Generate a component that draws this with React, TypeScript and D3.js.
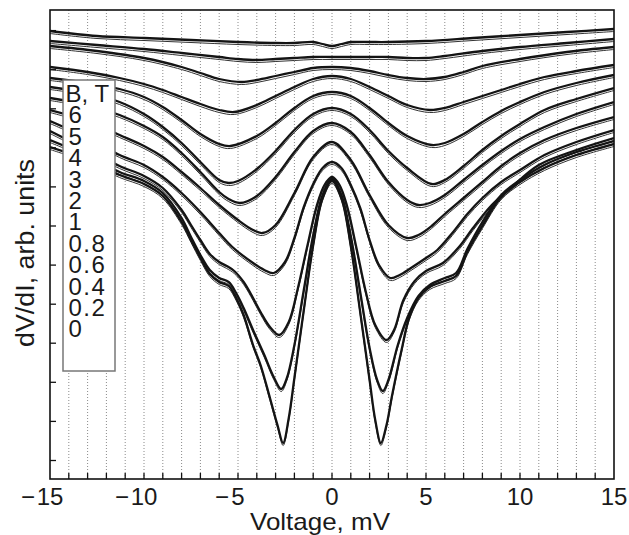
import React from "react";
import * as d3 from "d3";

type P = [number, number];

// Voltage (mV) vs dV/dI (arb. units); each series one field value.
const curveA: P[] = [[-15,44.8],[-12.5,44.3],[-10,44.1],[-7.5,43.9],[-5,43.7],[-3,43.6],[-2,43.6],[-1,43.7],[-0.5,43.5],[0,43.3],[0.5,43.5],[1,43.7],[2,43.7],[3,43.7],[5,43.8],[7.5,44.1],[10,44.4],[12.5,44.7],[15,45.0]];
const curveB: P[] = [[-15,43.8],[-12.5,43.4],[-10,43.0],[-8,42.6],[-6,42.2],[-5,42.0],[-4,41.9],[-3,42.0],[-2,42.1],[-1,42.2],[0,42.2],[1,42.2],[2,42.2],[3,42.2],[4,42.1],[5,42.1],[6,42.3],[8,42.8],[10,43.2],[12.5,43.6],[15,44.0]];
const curveC: P[] = [[-15,43.3],[-12.5,42.8],[-10,42.1],[-8,41.2],[-7,40.6],[-6,40.0],[-4.8,39.7],[-4,39.9],[-3,40.3],[-2,40.7],[-1,41.1],[0,41.2],[1,41.1],[2,40.8],[3,40.4],[4,40.1],[5,40.0],[6,40.2],[7,40.7],[8,41.3],[10,42.0],[12.5,42.7],[15,43.2]];
const curveD: P[] = [[-15,41.2],[-13,40.7],[-11.3,40.1],[-10,39.5],[-9,38.9],[-8,38.2],[-7,37.5],[-6,36.9],[-5.2,36.7],[-4,37.4],[-3,38.3],[-2,39.2],[-1,40.0],[0,40.3],[1,40.0],[2,39.2],[3,38.3],[4,37.4],[5.2,36.9],[6,37.1],[7,37.7],[8,38.3],[9,38.9],[10,39.5],[11.3,40.2],[13,40.8],[15,41.4]];
const curveE: P[] = [[-15,40.1],[-13,39.6],[-11.3,39.0],[-10,38.2],[-9,37.2],[-8,35.9],[-7,34.5],[-6,33.5],[-5.4,33.3],[-4,34.3],[-3,35.6],[-2,37.1],[-1,38.3],[0,38.7],[1,38.3],[2,37.1],[3,35.6],[4,34.3],[5.3,33.4],[6,33.6],[7,34.5],[8,35.7],[9,36.8],[10,37.7],[11.3,38.7],[13,39.6],[15,40.4]];
const curveF: P[] = [[-15,39.2],[-13,38.6],[-11.3,37.7],[-10,36.5],[-9,35.2],[-8,33.6],[-7,31.7],[-6,29.9],[-5.5,29.6],[-5,29.8],[-4,31.0],[-3,32.8],[-2,34.9],[-1,36.5],[0,37.1],[1,36.5],[2,34.9],[3,32.8],[4,31.1],[5.3,29.5],[6,29.9],[7,31.3],[8,32.9],[9,34.3],[10,35.5],[11.3,36.9],[13,38.0],[15,39.1]];
const curveG: P[] = [[-15,38.1],[-13,37.4],[-11.3,36.4],[-10,35.3],[-9,34.2],[-8,32.6],[-7,30.7],[-6,28.7],[-5.5,28.0],[-4.9,27.6],[-4,28.3],[-3,30.2],[-2,32.7],[-1,34.8],[0,35.6],[1,34.7],[2,32.4],[3,29.7],[4,27.9],[4.6,27.4],[5.2,27.6],[6,28.4],[7,29.9],[8,31.4],[9,32.8],[10,34.0],[11.3,35.2],[13,36.5],[15,37.7]];
const curveH: P[] = [[-15,36.9],[-13,35.8],[-11.3,34.4],[-10,33.3],[-9,32.2],[-8,30.7],[-7,29.1],[-6,27.4],[-5,25.9],[-4.2,24.9],[-3.7,24.6],[-3,25.4],[-2,28.6],[-1,32.2],[0,33.7],[1,31.9],[2,28.4],[3,25.4],[4,24.1],[4.6,24.4],[5.3,25.3],[6,26.5],[7,28.1],[8,29.7],[9,31.3],[10,32.6],[11.3,33.9],[13,35.1],[15,36.2]];
const curveI: P[] = [[-15,35.8],[-13,34.1],[-11.3,32.4],[-10,31.4],[-9,30.2],[-8,28.6],[-7,26.7],[-6,24.6],[-5.3,23.2],[-4.2,21.6],[-3.6,20.9],[-3.1,20.6],[-2.5,21.7],[-2,24.1],[-1.5,27.2],[-1,29.5],[-0.5,31.1],[0,31.7],[0.5,31.1],[1,29.4],[1.5,27.1],[2,23.9],[2.5,21.4],[3.1,20.1],[3.6,20.4],[4.2,21.1],[5,22.1],[5.6,22.9],[6.4,24.6],[7.2,26.5],[8,28.1],[9,29.7],[10,30.9],[11.3,32.4],[13,33.7],[15,34.9]];
const curveJ: P[] = [[-15,34.8],[-13,32.9],[-11.3,31.3],[-10,30.3],[-9,29.1],[-8,26.9],[-7.5,25.4],[-7,23.9],[-6.5,22.5],[-6,21.7],[-5.6,21.3],[-5.2,20.8],[-4.7,19.7],[-4.2,18.1],[-3.8,16.7],[-3.3,15.2],[-2.8,14.4],[-2.3,15.7],[-1.8,19.2],[-1.3,23.4],[-0.8,27.4],[-0.4,29.4],[0,30.2],[0.4,29.4],[0.8,27.3],[1.3,23.1],[1.8,18.7],[2.3,15.4],[2.9,13.9],[3.3,14.9],[3.8,17.9],[4.4,19.8],[5,20.8],[5.9,21.6],[6.8,23.3],[7.5,25.1],[8.5,27.4],[9.5,29.1],[11,31.4],[13,32.9],[15,34.1]];
const curveK: P[] = [[-15,33.9],[-13,32.3],[-11.3,30.7],[-10,29.8],[-9,28.6],[-8,26.1],[-7.5,24.2],[-7,22.4],[-6.5,20.9],[-6,20.1],[-5.5,19.7],[-5.1,18.6],[-4.7,17.1],[-4.2,14.9],[-3.6,12.4],[-3.1,10.2],[-2.7,9.0],[-2.4,10.1],[-2,13.4],[-1.5,18.9],[-1,24.4],[-0.5,28.4],[0,30.0],[0.5,28.4],[1,24.3],[1.5,18.7],[2,13.1],[2.4,9.9],[2.7,8.8],[3,9.9],[3.5,13.4],[4,16.1],[4.6,18.3],[5.2,19.4],[6,20.1],[6.6,20.6],[7.2,23.0],[8,25.7],[9,28.4],[10,29.9],[11.3,31.4],[13,32.7],[15,33.8]];
const curveL: P[] = [[-15,33.2],[-13,31.9],[-11.3,30.4],[-10,29.5],[-9,28.3],[-8,25.7],[-7.5,23.9],[-7,22.1],[-6.5,20.5],[-6,19.7],[-5.5,19.3],[-5.1,18.1],[-4.7,16.4],[-4.2,13.4],[-3.8,11.4],[-3.3,8.1],[-2.9,5.4],[-2.6,3.6],[-2.3,6.1],[-2,10.1],[-1.5,16.9],[-1,23.4],[-0.5,28.1],[0,29.8],[0.5,28.1],[1,23.3],[1.5,16.7],[2,9.9],[2.3,5.9],[2.6,3.6],[2.9,5.4],[3.2,8.4],[3.7,12.9],[4.1,16.1],[4.6,18.1],[5.2,19.2],[6,19.8],[6.6,20.3],[7.2,22.7],[8,25.3],[9,28.2],[10,29.7],[11.3,31.1],[13,32.4],[15,33.5]];

const curves: P[][] = [curveA, curveB, curveC, curveD, curveE, curveF, curveG, curveH, curveI, curveJ, curveK, curveL];

const legendTitle = "B, T";
const legendFields = ["6", "5", "4", "3", "2", "1", "0.8", "0.6", "0.4", "0.2", "0"];

const xTickLabels = [-15, -10, -5, 0, 5, 10, 15];
const xMinorTicks = d3.range(-14, 15, 1);
const yTicks = [1.85, 5.76, 9.67, 13.58, 17.48, 21.39, 25.3, 29.21, 33.12, 37.02, 40.93, 44.84];

const FONT = "'Liberation Sans', Arial, Helvetica, sans-serif";

export default function App() {
  const L = 50, R = 614, T = 10, B = 479;
  const x = d3.scaleLinear().domain([-15, 15]).range([L, R]);
  const y = d3.scaleLinear().domain([0, 46.9]).range([B, T]);
  const line = d3
    .line<P>()
    .x((d) => x(d[0]))
    .y((d) => y(d[1]))
    .curve(d3.curveCatmullRom.alpha(0.5));

  return (
    <svg
      width={629}
      height={535}
      style={{ position: "absolute", left: 0, top: 0, background: "#fff" }}
      fontFamily={FONT}
    >
      <defs>
        <clipPath id="plotclip">
          <rect x={L} y={T} width={R - L} height={B - T} />
        </clipPath>
      </defs>
      {/* dotted vertical grid */}
      {xMinorTicks.map((v) => (
        <line
          key={"g" + v}
          x1={x(v)}
          x2={x(v)}
          y1={T}
          y2={B}
          stroke="#8a8a8a"
          strokeWidth={1}
          strokeDasharray="1,2"
        />
      ))}
      {/* curves */}
      <g clipPath="url(#plotclip)" fill="none">
        {curves.map((c, i) => (
          <g key={"c" + i}>
            <path d={line(c) || ""} stroke="#333" strokeWidth={1} transform="translate(0,2.5)" />
            <path d={line(c) || ""} stroke="#141414" strokeWidth={2.3} />
          </g>
        ))}
      </g>
      {/* legend */}
      <rect x={63} y={80} width={52} height={291} fill="#fff" stroke="#777" strokeWidth={1.5} />
      <text x={65.5} y={102} fontSize={24} fill="#1a1a1a">
        {legendTitle}
      </text>
      {legendFields.map((f, i) => (
        <text
          key={"l" + f}
          x={68.5}
          y={102 + (i + 1) * 21.4}
          fontSize={24}
          letterSpacing={1.5}
          fill="#1a1a1a"
        >
          {f}
        </text>
      ))}
      {/* frame */}
      <rect x={L} y={T} width={R - L} height={B - T} fill="none" stroke="#111" strokeWidth={1.6} />
      {/* ticks */}
      {xMinorTicks.map((v) => (
        <line key={"xt" + v} x1={x(v)} x2={x(v)} y1={B} y2={B - 6} stroke="#111" strokeWidth={1.3} />
      ))}
      {yTicks.map((t) => (
        <line key={"yt" + t} x1={L} x2={L + 6} y1={y(t)} y2={y(t)} stroke="#111" strokeWidth={1.3} />
      ))}
      {xTickLabels.map((v) => (
        <g key={"xl" + v} transform={`translate(${x(v)},505)`}>
          <text textAnchor="middle" fontSize={24} fill="#1a1a1a">
            {String(Math.abs(v))}
          </text>
          {v < 0 && (
            <text
              x={Math.abs(v) >= 10 ? -15 : -9}
              textAnchor="end"
              fontSize={24}
              fill="#1a1a1a"
            >
              {"\u2212"}
            </text>
          )}
        </g>
      ))}
      <text x={320} y={530} textAnchor="middle" fontSize={24} fill="#1a1a1a" textLength={140} lengthAdjust="spacingAndGlyphs">
        Voltage, mV
      </text>
      <text
        transform="translate(34,253) rotate(-90)"
        textAnchor="middle"
        fontSize={25}
        fill="#1a1a1a"
        textLength={188}
        lengthAdjust="spacingAndGlyphs"
      >
        dV/dI, arb. units
      </text>
    </svg>
  );
}
